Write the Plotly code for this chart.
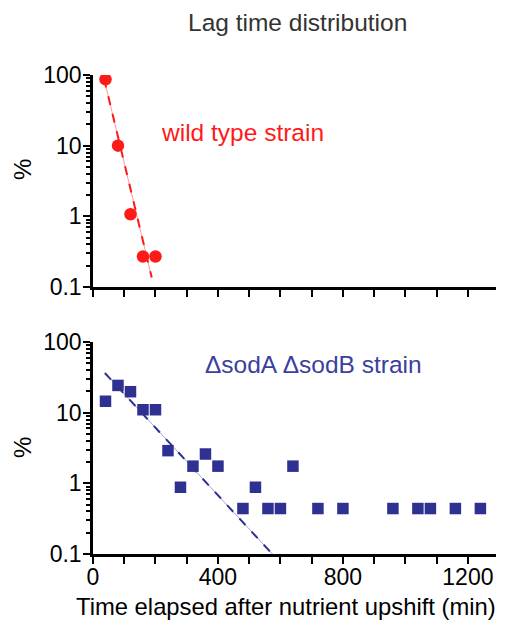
import numpy as np
import plotly.graph_objects as go
from plotly.subplots import make_subplots

# Lag time distribution: % of cells vs lag time (min)
wt_time = [40, 80, 120, 160, 200]
wt_pct = [87, 10, 1.07, 0.27, 0.27]

sod_time = [40, 80, 120, 160, 200, 240, 280, 320, 360, 400, 480, 520, 560,
            600, 640, 720, 800, 960, 1040, 1080, 1160, 1240]
sod_pct = [14.5, 24.3, 19.8, 11.0, 11.0, 2.9, 0.88, 1.75, 2.6, 1.75, 0.44, 0.88,
           0.44, 0.44, 1.75, 0.44, 0.44, 0.44, 0.44, 0.44, 0.44, 0.44]

# Exponential fits: log10(%) = intercept + slope * t, drawn over [t_start, t_end]
wt_fit = {"intercept": 2.60, "slope": -0.01844, "t_start": 22, "t_end": 188}
sod_fit = {"intercept": 1.743, "slope": -0.00478, "t_start": 38, "t_end": 575}

x_ticks = [0, 400, 800, 1200]
y_ticks = [0.1, 1, 10, 100]
y_tick_text = ["0.1", "1", "10", "100"]
y_minor = [d * k for d in y_ticks[:-1] for k in range(2, 10)]

RED = "#FF1A1A"
BLUE = "#2E3192"
FONT = "Liberation Sans, Arial, sans-serif"

W, H = 506, 622
ML, MR, MT, MB = 93, 10, 75, 68
PH = H - MT - MB
PW = W - ML - MR


def py(px_from_top):
    return (H - MB - px_from_top) / PH


def px(px_from_left):
    return (px_from_left - ML) / PW


def fit_line(fit):
    t = np.array([fit["t_start"], fit["t_end"]], dtype=float)
    return t, 10 ** (fit["intercept"] + fit["slope"] * t)


fig = make_subplots(rows=2, cols=1, vertical_spacing=0.0)

# wild type
t, y = fit_line(wt_fit)
fig.add_trace(go.Scatter(x=t, y=y, mode="lines", line=dict(color="#FF9A9A", width=1),
                         hoverinfo="skip", showlegend=False), row=1, col=1)
fig.add_trace(go.Scatter(x=t, y=y, mode="lines", line=dict(color=RED, width=2, dash="dash"),
                         hoverinfo="skip", showlegend=False), row=1, col=1)
fig.add_trace(go.Scatter(x=wt_time, y=wt_pct, mode="markers",
                         marker=dict(symbol="circle", size=12.5, color=RED),
                         showlegend=False), row=1, col=1)

# sodA sodB mutant
t, y = fit_line(sod_fit)
fig.add_trace(go.Scatter(x=t, y=y, mode="lines", line=dict(color="#A6A6D6", width=1),
                         hoverinfo="skip", showlegend=False), row=2, col=1)
fig.add_trace(go.Scatter(x=t, y=y, mode="lines", line=dict(color=BLUE, width=2, dash="dash"),
                         hoverinfo="skip", showlegend=False), row=2, col=1)
fig.add_trace(go.Scatter(x=sod_time, y=sod_pct, mode="markers",
                         marker=dict(symbol="square", size=11.5, color=BLUE),
                         showlegend=False), row=2, col=1)

top_dom = [py(287), 1.0]
bot_dom = [0.0, py(342)]

xaxis_common = dict(
    range=[0, 1290], tickvals=x_ticks, ticks="outside", ticklen=7, tickwidth=2,
    tickcolor="black", showline=True, linecolor="black", linewidth=2.5,
    showgrid=False, zeroline=False, ticklabelstandoff=-6,
    minor=dict(dtick=100, tick0=0, ticks="outside", ticklen=7, tickwidth=2,
               tickcolor="black", showgrid=False),
    tickfont=dict(family=FONT, size=23, color="black"),
)
yaxis_common = dict(
    type="log", range=[-1, 2], tickvals=y_ticks, ticktext=y_tick_text,
    ticks="outside", ticklen=7, tickwidth=2, tickcolor="black",
    showline=True, linecolor="black", linewidth=2.5, showgrid=False, zeroline=False,
    ticklabelstandoff=-3,
    minor=dict(tickvals=y_minor, ticks="outside", ticklen=4, tickwidth=1.5,
               tickcolor="black", showgrid=False),
    tickfont=dict(family=FONT, size=23, color="black"),
)

fig.update_layout(
    width=W, height=H,
    margin=dict(l=ML, r=MR, t=MT, b=MB),
    paper_bgcolor="white", plot_bgcolor="white",
    xaxis=dict(**xaxis_common, showticklabels=False),
    xaxis2=dict(**xaxis_common, showticklabels=True),
    yaxis=dict(**yaxis_common, domain=top_dom),
    yaxis2=dict(**yaxis_common, domain=bot_dom),
    font=dict(family=FONT, size=23, color="black"),
)

ann = dict(xref="paper", yref="paper", showarrow=False, xanchor="center", yanchor="middle")
fig.add_annotation(text="Lag time distribution", x=px(297), y=py(22),
                   font=dict(family=FONT, size=24.5, color="#333333"), **ann)
fig.add_annotation(text="wild type strain", x=px(242), y=py(132),
                   font=dict(family=FONT, size=24.5, color=RED), **ann)
fig.add_annotation(text="ΔsodA ΔsodB strain", x=px(313), y=py(364),
                   font=dict(family=FONT, size=24.5, color="#3B40A0"), **ann)
fig.add_annotation(text="%", x=px(22), y=py(170), textangle=-90,
                   font=dict(family=FONT, size=24, color="black"), **ann)
fig.add_annotation(text="%", x=px(22), y=py(448), textangle=-90,
                   font=dict(family=FONT, size=24, color="black"), **ann)
fig.add_annotation(text="Time elapsed after nutrient upshift (min)", x=px(286), y=py(606),
                   font=dict(family=FONT, size=23.8, color="black"), **ann)

fig.write_html("out.html")
